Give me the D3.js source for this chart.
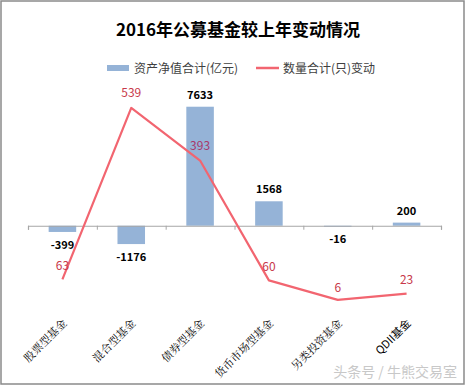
<!DOCTYPE html>
<html>
<head>
<meta charset="utf-8">
<script src="https://cdn.jsdelivr.net/npm/d3@7"></script>
<style>
  body { margin: 0; background: #fff; }
  svg { display: block; }
</style>
</head>
<body>
<div id="chart"></div>
<script>
// chart data
var categories = ['股票型基金', '混合型基金', '债券型基金', '货币市场型基金', '另类投资基金', 'QDII基金'];
var netAssetChange = [-399, -1176, 7633, 1568, -16, 200];   // 资产净值合计(亿元)
var countChange = [63, 539, 393, 60, 6, 23];               // 数量合计(只)变动

var width = 466;
var height = 386;
var barColor = '#95b3d7';
var lineColor = '#f26570';
var lineLabelColor = '#c8394a';
var mainFont = '"Noto Sans CJK SC", "Noto Sans", sans-serif';

var svg = d3.select('#chart').append('svg')
    .attr('width', width)
    .attr('height', height);

svg.append('rect')
    .attr('x', 0)
    .attr('y', 0)
    .attr('width', width)
    .attr('height', height)
    .attr('fill', '#fff');

// outer frame
svg.append('rect')
    .attr('x', 1)
    .attr('y', 1)
    .attr('width', width - 3)
    .attr('height', height - 3)
    .attr('fill', 'none')
    .attr('stroke', '#8a8a8a')
    .attr('stroke-width', 1.5);

// title
svg.append('text')
    .attr('x', 238)
    .attr('y', 36)
    .attr('text-anchor', 'middle')
    .attr('font-family', mainFont)
    .attr('font-weight', 'bold')
    .attr('font-size', '17px')
    .attr('fill', '#000')
    .text('2016年公募基金较上年变动情况');

// legend
var legend = svg.append('g').attr('font-family', mainFont).attr('font-size', '12px').attr('fill', '#404040');
legend.append('rect')
    .attr('x', 107).attr('y', 65).attr('width', 22).attr('height', 6)
    .attr('fill', barColor);
legend.append('text').attr('x', 134).attr('y', 72.5).text('资产净值合计(亿元)');
legend.append('line')
    .attr('x1', 256).attr('x2', 279).attr('y1', 68).attr('y2', 68)
    .attr('stroke', lineColor).attr('stroke-width', 2.5);
legend.append('text').attr('x', 283).attr('y', 72.5).text('数量合计(只)变动');

// scales
var x = d3.scaleBand()
    .domain(categories)
    .range([28, 441])
    .paddingInner(0.6)
    .paddingOuter(0.3);

var y = d3.scaleLinear()
    .domain([-4000, 8000])
    .range([288.1, 101]);

var y2 = d3.scaleLinear()
    .domain([0, 600])
    .range([302, 86]);

var zeroY = y(0);

// bars
svg.selectAll('rect.bar')
    .data(netAssetChange)
    .enter().append('rect')
    .attr('class', 'bar')
    .attr('x', function(d, i) { return x(categories[i]); })
    .attr('y', function(d) { return d >= 0 ? y(d) : zeroY; })
    .attr('width', x.bandwidth())
    .attr('height', function(d) { return Math.max(1, Math.abs(y(d) - zeroY)); })
    .attr('fill', barColor);

// category axis
var xAxisScale = d3.scalePoint().domain(d3.range(categories.length + 1)).range([28, 441]);
var axis = svg.append('g')
    .attr('transform', 'translate(0,' + zeroY + ')')
    .call(d3.axisBottom(xAxisScale).tickSize(4).tickFormat(''));
axis.select('.domain').attr('stroke', '#a6a6a6').attr('stroke-width', 1.2);
axis.selectAll('.tick line').attr('stroke', '#a6a6a6');

// category labels, rotated
svg.selectAll('text.cat')
    .data(categories)
    .enter().append('text')
    .attr('class', 'cat')
    .attr('transform', function(d) {
        var cx = x(d) + x.bandwidth() / 2 + 5;
        return 'translate(' + cx + ',324) rotate(-45)';
    })
    .attr('text-anchor', 'end')
    .attr('font-family', function(d) { return d === 'QDII基金' ? mainFont : '"Noto Serif CJK SC", "DejaVu Serif", serif'; })
    .attr('font-size', '11px')
    .attr('fill', '#000')
    .text(function(d) { return d; });

// bar labels
svg.selectAll('text.barlabel')
    .data(netAssetChange)
    .enter().append('text')
    .attr('class', 'barlabel')
    .attr('x', function(d, i) { return x(categories[i]) + x.bandwidth() / 2; })
    .attr('y', function(d) { return d >= 0 ? y(d) - 8 : y(d) + 17; })
    .attr('text-anchor', 'middle')
    .attr('font-family', mainFont)
    .attr('font-weight', 'bold')
    .attr('font-size', '11px')
    .attr('fill', '#000')
    .text(function(d) { return d; });

// line
var line = d3.line()
    .x(function(d, i) { return x(categories[i]) + x.bandwidth() / 2; })
    .y(function(d) { return y2(d); });

svg.append('path')
    .datum(countChange)
    .attr('d', line)
    .attr('fill', 'none')
    .attr('stroke', lineColor)
    .attr('stroke-width', 2.2)
    .attr('stroke-linejoin', 'round');

// line labels
var labelOffsets = [-9, -11, -11, -9, -8, -10];
svg.selectAll('text.linelabel')
    .data(countChange)
    .enter().append('text')
    .attr('class', 'linelabel')
    .attr('x', function(d, i) { return x(categories[i]) + x.bandwidth() / 2; })
    .attr('y', function(d, i) { return y2(d) + labelOffsets[i]; })
    .attr('text-anchor', 'middle')
    .attr('font-family', mainFont)
    .attr('font-size', '12px')
    .attr('fill', function(d, i) { return i === 2 ? '#a8386a' : lineLabelColor; })
    .text(function(d) { return d; });

// watermark
svg.append('text')
    .attr('x', 457)
    .attr('y', 377)
    .attr('text-anchor', 'end')
    .attr('font-family', mainFont)
    .attr('font-size', '14px')
    .attr('fill', '#c8c8c8')
    .text('头条号 / 牛熊交易室');
</script>
</body>
</html>
